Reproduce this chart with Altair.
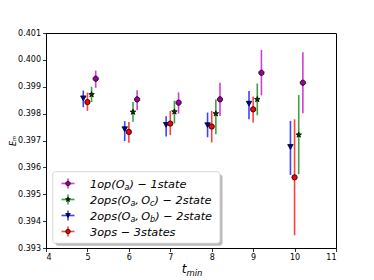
import altair as alt
import pandas as pd

# ---------------- data ----------------
t_min = [5, 6, 7, 8, 9, 10]

labels_parts = [
    [("1op(O", 0), ("a", 1), (") \u2212 1state", 0)],
    [("2ops(O", 0), ("a", 1), (",\u2009O", 0), ("c", 1), (") \u2212 2state", 0)],
    [("2ops(O", 0), ("a", 1), (",\u2009O", 0), ("b", 1), (") \u2212 2state", 0)],
    [("3ops \u2212 3states", 0)],
]

y_1op = [0.39930, 0.39853, 0.39841, 0.39853, 0.39952, 0.39915]
lo_1op = [0.39896, 0.39813, 0.39800, 0.39791, 0.39868, 0.39801]
hi_1op = [0.39960, 0.39887, 0.39879, 0.39915, 0.40037, 0.40028]

y_ac = [0.39871, 0.39806, 0.39807, 0.39800, 0.39853, 0.39721]
lo_ac = [0.39843, 0.39770, 0.39764, 0.39723, 0.39794, 0.39575]
hi_ac = [0.39900, 0.39843, 0.39848, 0.39853, 0.39912, 0.39869]

y_ab = [0.39857, 0.39742, 0.39758, 0.39757, 0.39837, 0.39676]
lo_ab = [0.39824, 0.39698, 0.39715, 0.39712, 0.39779, 0.39572]
hi_ab = [0.39886, 0.39772, 0.39790, 0.39804, 0.39884, 0.39773]

y_3 = [0.39843, 0.39732, 0.39763, 0.39752, 0.39816, 0.39563]
lo_3 = [0.39810, 0.39692, 0.39720, 0.39693, 0.39767, 0.39347]
hi_3 = [0.39878, 0.39769, 0.39810, 0.39810, 0.39864, 0.39779]

x_ticks = [4, 5, 6, 7, 8, 9, 10, 11]
y_ticks = [0.393, 0.394, 0.395, 0.396, 0.397, 0.398, 0.399, 0.400, 0.401]

# ---------------- style ----------------
W, H = 290, 215
OCT = "M-0.41,-1L0.41,-1L1,-0.41L1,0.41L0.41,1L-0.41,1L-1,0.41L-1,-0.41Z"
STAR = "M0,-1L0.24,-0.33L0.95,-0.31L0.38,0.12L0.59,0.81L0,0.4L-0.59,0.81L-0.38,0.12L-0.95,-0.31L-0.24,-0.33Z"
series = [
    dict(y=y_1op, lo=lo_1op, hi=hi_1op, off=0.2, line="#bf00bf", fill="#9a009a", shape=OCT, size=26),
    dict(y=y_ac, lo=lo_ac, hi=hi_ac, off=0.1, line="#008000", fill="#004000", shape=STAR, size=34),
    dict(y=y_ab, lo=lo_ab, hi=hi_ab, off=-0.1, line="#0000ff", fill="#0000aa", shape="triangle-down", size=30),
    dict(y=y_3, lo=lo_3, hi=hi_3, off=0.0, line="#ff0000", fill="#ff0000", shape="circle", size=28),
]

xscale = alt.Scale(domain=[4, 11], nice=False, zero=False)
yscale = alt.Scale(domain=[0.393, 0.401], nice=False, zero=False)
xaxis = alt.Axis(values=x_ticks, format="d", title=None)
yaxis = alt.Axis(values=y_ticks, format=".3f", title=None)

one = pd.DataFrame({"a": [0]})
layers = []

for s in series:
    df = pd.DataFrame({
        "x": [t + s["off"] for t in t_min],
        "y": s["y"], "lo": s["lo"], "hi": s["hi"],
    })
    base = alt.Chart(df)
    layers.append(base.mark_rule(color=s["line"], opacity=0.75, strokeWidth=1.6).encode(
        x=alt.X("x:Q", scale=xscale, axis=xaxis),
        y=alt.Y("lo:Q", scale=yscale, axis=yaxis),
        y2="hi:Q",
    ))
    layers.append(base.mark_point(shape=s["shape"], filled=True, fill=s["fill"], stroke="black",
                                  strokeWidth=0.8, size=s["size"], opacity=1).encode(
        x=alt.X("x:Q", scale=xscale, axis=xaxis),
        y=alt.Y("y:Q", scale=yscale, axis=yaxis),
    ))

# ---------------- legend ----------------
bx0, bx1, by0, by1 = 6.7, 174, 138.7, 210.3
layers.append(alt.Chart(one).mark_rect(fill="#777777", opacity=0.5, cornerRadius=3).encode(
    x=alt.value(bx0 + 2.5), x2=alt.value(bx1 + 2.5), y=alt.value(by0 + 2.5), y2=alt.value(by1 + 2.5)))
layers.append(alt.Chart(one).mark_rect(fill="white", stroke="#cccccc", strokeWidth=0.8, cornerRadius=3).encode(
    x=alt.value(bx0), x2=alt.value(bx1), y=alt.value(by0), y2=alt.value(by1)))

CW = {'0': .636, '1': .636, '2': .636, '3': .636, 'a': .613, 'b': .635, 'c': .550, 'e': .615,
      'o': .612, 'p': .635, 's': .521, 't': .392, 'O': .787, '(': .390, ')': .390, ',': .318,
      '\u2212': .838, ' ': .318, '\u2009': .2, 'm': .974, 'i': .278, 'n': .634}


def twidth(txt, fs):
    return sum(CW.get(c, 0.6) for c in txt) * fs


FS = 11.3
SUB = 8.0
row_y = [150.5, 166.5, 182.5, 198.5]
mx = 22
for i, s in enumerate(series):
    ry = row_y[i]
    layers.append(alt.Chart(one).mark_rule(color=s["line"], opacity=0.75, strokeWidth=1.6).encode(
        x=alt.value(mx - 6.5), x2=alt.value(mx + 6.5), y=alt.value(ry)))
    layers.append(alt.Chart(one).mark_rule(color=s["line"], opacity=0.75, strokeWidth=1.6).encode(
        x=alt.value(mx), y=alt.value(ry - 5), y2=alt.value(ry + 5)))
    layers.append(alt.Chart(one).mark_point(shape=s["shape"], filled=True, fill=s["fill"], stroke="black",
                                            strokeWidth=0.8, size=s["size"] * 0.7, opacity=1).encode(
        x=alt.value(mx), y=alt.value(ry)))
    cx = 44
    for txt, sub in labels_parts[i]:
        fs = SUB if sub else FS
        layers.append(alt.Chart(one).mark_text(
            text=txt, align="left", baseline="alphabetic", font="DejaVu Sans", fontStyle="italic",
            fontSize=fs, color="black").encode(
            x=alt.value(cx), y=alt.value(ry + (6.5 if sub else 4))))
        cx += twidth(txt, fs)

# ---------------- axis titles ----------------
tx = 135.7
layers.append(alt.Chart(one).mark_text(text="t", align="left", baseline="alphabetic", font="DejaVu Sans",
                                       fontStyle="italic", fontSize=12, color="black").encode(
    x=alt.value(tx), y=alt.value(240)))
layers.append(alt.Chart(one).mark_text(text="min", align="left", baseline="alphabetic", font="DejaVu Sans",
                                       fontStyle="italic", fontSize=8.5, color="black").encode(
    x=alt.value(tx + twidth("t", 12)), y=alt.value(243)))
layers.append(alt.Chart(one).mark_text(text="E\u2098", angle=270, align="center", baseline="middle",
                                       font="DejaVu Sans", fontStyle="italic", fontSize=8, color="black").encode(
    x=alt.value(-32.5), y=alt.value(108)))

chart = alt.layer(*layers).properties(
    width=W, height=H,
    autosize=alt.AutoSizeParams(type="none"),
    padding={"left": 38, "top": 25, "right": 30, "bottom": 32},
).configure_view(stroke="black", strokeWidth=1).configure_axis(
    domainColor="black", domainWidth=1, tickColor="black", tickWidth=0.8, tickSize=3.5,
    labelFont="DejaVu Sans", labelFontSize=8, labelColor="black", grid=False, labelPadding=2,
)

chart.save("out.html", embed_options={"renderer": "svg", "actions": False})
